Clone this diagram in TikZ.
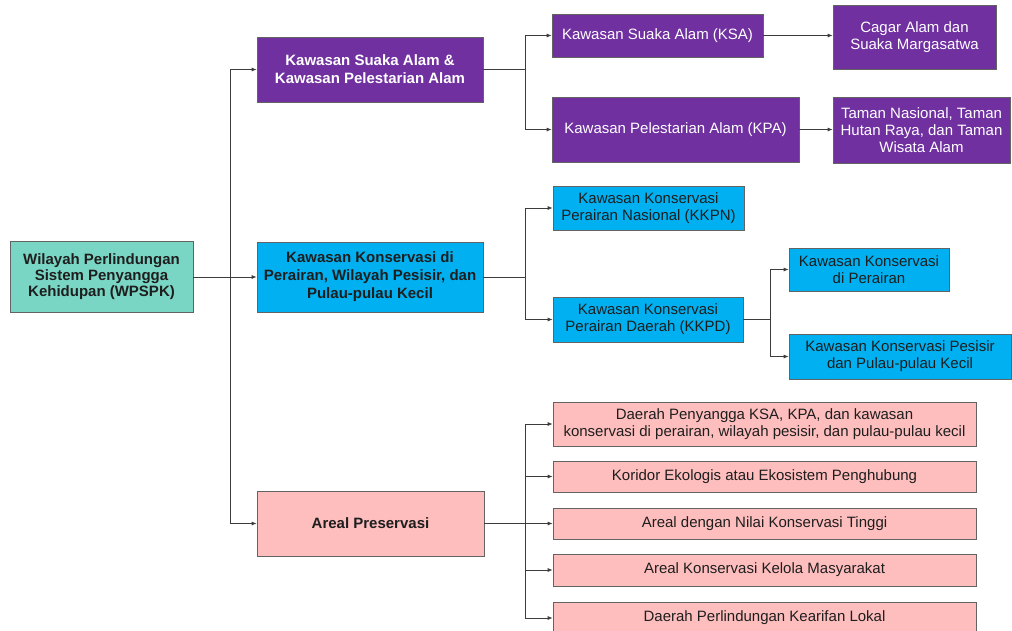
\documentclass[tikz,border=0pt]{standalone}
\usepackage{fontspec}
\setmainfont{Liberation Sans}
\usetikzlibrary{arrows.meta}
\definecolor{cteal}{RGB}{122,214,196}
\definecolor{cpurple}{RGB}{112,48,160}
\definecolor{cblue}{RGB}{0,176,240}
\definecolor{cpink}{RGB}{255,190,190}
\definecolor{cline}{RGB}{60,60,60}
\definecolor{ctext}{RGB}{30,30,30}
\tikzset{
  box/.style={draw=cline!80, line width=0.7pt, inner sep=0pt, align=center,
    font=\fontsize{15}{17}\selectfont},
  purplebox/.style={box, fill=cpurple, text=white},
  bluebox/.style={box, fill=cblue, text=ctext},
  pinkbox/.style={box, fill=cpink, text=ctext},
  tealbox/.style={box, fill=cteal, text=ctext},
  conn/.style={draw=cline, line width=0.8pt},
  arr/.style={conn, -{Latex[length=5pt,width=4pt]}},
}
\begin{document}
\begin{tikzpicture}[x=1pt,y=-1pt]
\useasboundingbox (0,0) rectangle (1012,630);
% root
\node[tealbox, font=\fontsize{15}{16}\selectfont\bfseries, minimum width=183, minimum height=71] (root) at (101.5,277) {Wilayah Perlindungan\\Sistem Penyangga\\Kehidupan (WPSPK)};
% level 1
\node[purplebox, font=\fontsize{15}{18}\selectfont\bfseries, minimum width=226, minimum height=65] (A) at (370,69.5) {Kawasan Suaka Alam \&\\Kawasan Pelestarian Alam};
\node[bluebox, font=\fontsize{15}{18}\selectfont\bfseries, minimum width=226, minimum height=70] (B) at (370,277) {Kawasan Konservasi di\\Perairan, Wilayah Pesisir, dan\\Pulau-pulau Kecil};
\node[pinkbox, font=\fontsize{15}{18}\selectfont\bfseries, minimum width=227, minimum height=65] (C) at (370.5,523.5) {Areal Preservasi};
% purple leaves
\node[purplebox, minimum width=211, minimum height=43] (KSA) at (657.5,35.5) {Kawasan Suaka Alam (KSA)};
\node[purplebox, minimum width=247, minimum height=65] (KPA) at (675.5,129.5) {Kawasan Pelestarian Alam (KPA)};
\node[purplebox, minimum width=163, minimum height=64] (CAG) at (914.5,37) {Cagar Alam dan\\Suaka Margasatwa};
\node[purplebox, minimum width=177, minimum height=66] (TAM) at (921.5,130) {Taman Nasional, Taman\\Hutan Raya, dan Taman\\Wisata Alam};
% blue leaves
\node[bluebox, minimum width=191, minimum height=44] (KKPN) at (648.5,208) {Kawasan Konservasi\\Perairan Nasional (KKPN)};
\node[bluebox, minimum width=190, minimum height=45] (KKPD) at (648,319.5) {Kawasan Konservasi\\Perairan Daerah (KKPD)};
\node[bluebox, minimum width=160, minimum height=43] (KKDP) at (869,269.5) {Kawasan Konservasi\\di Perairan};
\node[bluebox, minimum width=222, minimum height=45] (KKPS) at (900,356.5) {Kawasan Konservasi Pesisir\\dan Pulau-pulau Kecil};
% pink leaves
\node[pinkbox, minimum width=423, minimum height=44] (P1) at (764.5,424) {Daerah Penyangga KSA, KPA, dan kawasan\\konservasi di perairan, wilayah pesisir, dan pulau-pulau kecil};
\node[pinkbox, minimum width=423, minimum height=31] (P2) at (764.5,476.5) {Koridor Ekologis atau Ekosistem Penghubung};
\node[pinkbox, minimum width=423, minimum height=31] (P3) at (764.5,523.5) {Areal dengan Nilai Konservasi Tinggi};
\node[pinkbox, minimum width=423, minimum height=32] (P4) at (764.5,570) {Areal Konservasi Kelola Masyarakat};
\node[pinkbox, minimum width=423, minimum height=32] (P5) at (764.5,618) {Daerah Perlindungan Kearifan Lokal};
% junctions
\coordinate (jR) at (230,277);
\coordinate (jA) at (525,69.5);
\coordinate (jB) at (525,277);
\coordinate (jC) at (525,523.5);
\coordinate (jD) at (770,319.5);
% trunk
\draw[arr] (root.east) -- (B.west);
\draw[arr] (jR) |- (A.west);
\draw[arr] (jR) |- (C.west);
% branch A
\draw[conn] (A.east) -- (jA);
\draw[arr] (jA) |- (KSA.west);
\draw[arr] (jA) |- (KPA.west);
\draw[arr] (KSA.east) -- (KSA.east -| CAG.west);
\draw[arr] (KPA.east) -- (KPA.east -| TAM.west);
% branch B
\draw[conn] (B.east) -- (jB);
\draw[arr] (jB) |- (KKPN.west);
\draw[arr] (jB) |- (KKPD.west);
\draw[conn] (KKPD.east) -- (jD);
\draw[arr] (jD) |- (KKDP.west);
\draw[arr] (jD) |- (KKPS.west);
% branch C
\draw[conn] (C.east) -- (jC);
\draw[arr] (jC) |- (P1.west);
\draw[arr] (jC) |- (P2.west);
\draw[arr] (jC) |- (P3.west);
\draw[arr] (jC) |- (P4.west);
\draw[arr] (jC) |- (P5.west);
\end{tikzpicture}
\end{document}
